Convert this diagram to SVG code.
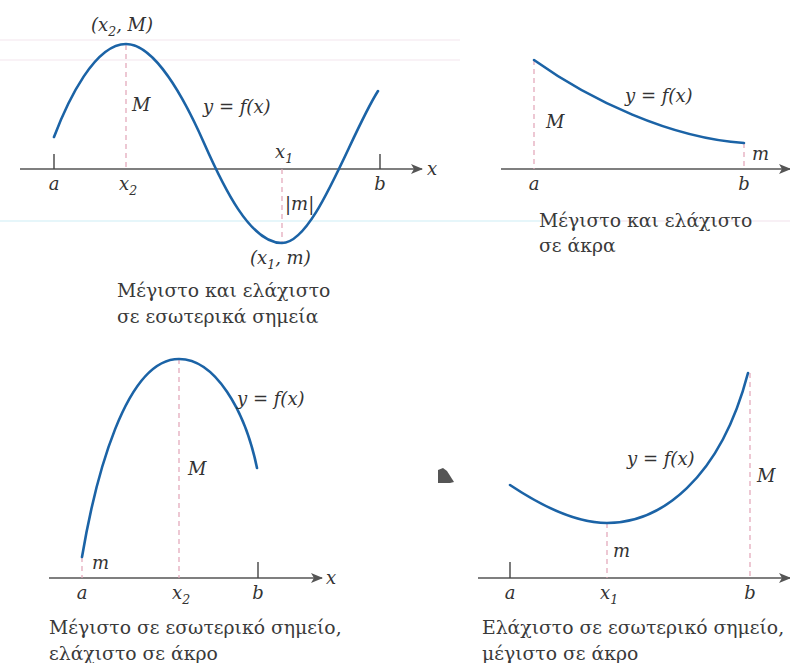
<svg xmlns="http://www.w3.org/2000/svg" width="790" height="663" viewBox="0 0 790 663">
<style>
.bg{fill:#ffffff}
.faint{stroke-width:1.2;fill:none}
.axis{stroke:#555;stroke-width:1.4;fill:none}
.tick{stroke:#444;stroke-width:1.4}
.dash{stroke:#e2a3b6;stroke-width:1.2;stroke-dasharray:5 4;fill:none}
.curve{stroke:#1b63a6;stroke-width:2.6;fill:none;stroke-linecap:round}
text{font-family:"DejaVu Serif",serif}
.m{font-style:italic;font-size:18px;fill:#333}
.sub{font-size:12.5px}
.cap{font-size:18.8px;fill:#3a3a3a}
</style>
<defs>
<marker id="arr" viewBox="0 0 12 10" refX="11" refY="5" markerWidth="12" markerHeight="10" markerUnits="userSpaceOnUse" orient="auto">
<path d="M0,0 L12,5 L0,10 L3,5 Z" fill="#555"/>
</marker>
</defs>
<rect class="bg" x="0" y="0" width="790" height="663"/>
<g id="scan-lines">
<line class="faint" x1="0" y1="40" x2="460" y2="40" stroke="#f4e6ee"/>
<line class="faint" x1="0" y1="60" x2="460" y2="60" stroke="#f4e6ee"/>
<line class="faint" x1="0" y1="221" x2="540" y2="221" stroke="#cdeef6"/>
<line class="faint" x1="540" y1="221" x2="790" y2="221" stroke="#f1e2ec"/>
</g>

<g id="connectors">
<line class="axis" x1="20" y1="169" x2="422" y2="169" marker-end="url(#arr)"/>
<line class="tick" x1="54" y1="154" x2="54" y2="169"/>
<line class="tick" x1="380" y1="154" x2="380" y2="169"/>
<line class="dash" x1="126" y1="45" x2="126" y2="169"/>
<line class="dash" x1="282" y1="169" x2="282" y2="243"/>
<line class="axis" x1="501" y1="169" x2="790" y2="169" marker-end="url(#arr)"/>
<line class="dash" x1="534" y1="60" x2="534" y2="169"/>
<line class="dash" x1="744" y1="143" x2="744" y2="169"/>
<line class="axis" x1="49" y1="578" x2="322" y2="578" marker-end="url(#arr)"/>
<line class="tick" x1="258" y1="562" x2="258" y2="578"/>
<line class="dash" x1="82" y1="557" x2="82" y2="578"/>
<line class="dash" x1="179" y1="359" x2="179" y2="578"/>
<line class="axis" x1="478" y1="578" x2="790" y2="578" marker-end="url(#arr)"/>
<line class="tick" x1="510" y1="562" x2="510" y2="578"/>
<line class="dash" x1="607" y1="523" x2="607" y2="578"/>
<line class="dash" x1="750" y1="373" x2="750" y2="578"/>
</g>

<g id="graph1">
<path class="curve" d="M54,137 C68,100 95,44 126,44 C155,44 185,100 204,143 C223,186 250,243 282,243 C315,243 350,135 378,91"/>
<text class="m" x="91" y="31">(x<tspan class="sub" dy="5">2</tspan><tspan dy="-5">, M)</tspan></text>
<text class="m" x="132" y="111">M</text>
<text class="m" x="203" y="113">y = f(x)</text>
<text class="m" x="427" y="175">x</text>
<text class="m" x="54" y="190" text-anchor="middle">a</text>
<text class="m" x="119" y="190">x<tspan class="sub" dy="5">2</tspan></text>
<text class="m" x="275" y="158">x<tspan class="sub" dy="5">1</tspan></text>
<text class="m" x="380" y="190" text-anchor="middle">b</text>
<text class="m" x="285" y="210">|m|</text>
<text class="m" x="250" y="264">(x<tspan class="sub" dy="5">1</tspan><tspan dy="-5">, m)</tspan></text>
<text class="cap" x="117" y="297">Μέγιστο και ελάχιστο</text>
<text class="cap" x="117" y="323">σε εσωτερικά σημεία</text>
</g>

<g id="graph2">
<path class="curve" d="M534,60 C590,100 670,138 744,143"/>
<text class="m" x="546" y="128">M</text>
<text class="m" x="625" y="102">y = f(x)</text>
<text class="m" x="752" y="160">m</text>
<text class="m" x="534" y="190" text-anchor="middle">a</text>
<text class="m" x="744" y="190" text-anchor="middle">b</text>
<text class="cap" x="539" y="227">Μέγιστο και ελάχιστο</text>
<text class="cap" x="539" y="252">σε άκρα</text>
</g>

<g id="graph3">
<path class="curve" d="M82,557 C95,480 125,359 179,359 C215,359 245,410 257,468"/>
<text class="m" x="92" y="569">m</text>
<text class="m" x="188" y="475">M</text>
<text class="m" x="237" y="405">y = f(x)</text>
<text class="m" x="326" y="584">x</text>
<text class="m" x="82" y="599" text-anchor="middle">a</text>
<text class="m" x="172" y="599">x<tspan class="sub" dy="5">2</tspan></text>
<text class="m" x="258" y="599" text-anchor="middle">b</text>
<text class="cap" x="49" y="634">Μέγιστο σε εσωτερικό σημείο,</text>
<text class="cap" x="49" y="660">ελάχιστο σε άκρο</text>
</g>

<g id="graph4">
<path class="curve" d="M510,485 C540,505 575,523 607,523 C660,523 720,480 748,373"/>
<polygon points="438,470 443,468 447,471 454,482 450,483 438,483" fill="#555"/>
<text class="m" x="613" y="557">m</text>
<text class="m" x="757" y="482">M</text>
<text class="m" x="627" y="465">y = f(x)</text>
<text class="m" x="510" y="599" text-anchor="middle">a</text>
<text class="m" x="600" y="599">x<tspan class="sub" dy="5">1</tspan></text>
<text class="m" x="750" y="599" text-anchor="middle">b</text>
<text class="cap" x="482" y="634">Ελάχιστο σε εσωτερικό σημείο,</text>
<text class="cap" x="482" y="660">μέγιστο σε άκρο</text>
</g>
</svg>
